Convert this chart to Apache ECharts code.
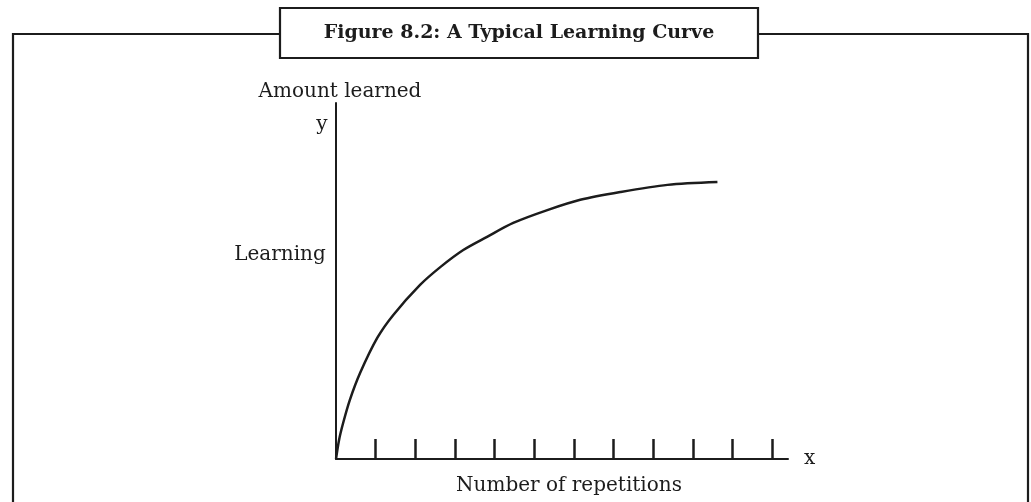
<!DOCTYPE html>
<html>
<head>
<meta charset="utf-8">
<script src="https://cdn.jsdelivr.net/npm/echarts@6/dist/echarts.min.js"></script>
<style>
html,body{margin:0;padding:0;background:#fff;}
#chart{width:1031px;height:502px;}
</style>
</head>
<body>
<div id="chart"></div>
<script>
// ---- data ----
var titleText = 'Figure 8.2: A Typical Learning Curve';
var repetitions = [0, 0.076, 0.18, 0.35, 0.61, 1.04, 1.44, 2.12, 2.63, 3.21, 3.81, 4.47, 5.33, 6.16, 7.17, 8.36, 9.62];
var amountLearned = [0, 5.3, 10.1, 16.6, 24.2, 34.0, 40.4, 48.9, 53.9, 58.7, 62.4, 66.3, 69.9, 72.8, 75.0, 77.0, 77.8];
var xTicks = [1, 2, 3, 4, 5, 6, 7, 8, 9, 10, 11];
var xAxisLabel = 'Number of repetitions';
var xAxisEnd = 'x';
var yAxisLabel = 'Amount learned';
var yAxisEnd = 'y';
var yMidLabel = 'Learning';

var serif = '"DejaVu Serif", serif';
var ink = '#1c1c1c';

var chart = echarts.init(document.getElementById('chart'), null, {renderer: 'canvas'});
var points = repetitions.map(function (x, i) { return [x, amountLearned[i]]; });

chart.setOption({
  backgroundColor: '#ffffff',
  animation: false,
  grid: {left: 336, right: 243, top: 103, bottom: 43, containLabel: false},
  xAxis: {
    type: 'value', min: 0, max: 11.4, interval: 1,
    axisLine: {show: true, lineStyle: {color: ink, width: 2}},
    axisTick: {show: true, inside: true, length: 20, customValues: xTicks, lineStyle: {color: ink, width: 2.5}},
    axisLabel: {show: false},
    splitLine: {show: false},
    name: xAxisEnd, nameLocation: 'end', nameGap: 16,
    nameTextStyle: {fontFamily: serif, fontSize: 20, color: ink, verticalAlign: 'middle', padding: [0,0,4,0]}
  },
  yAxis: {
    type: 'value', min: 0, max: 100,
    axisLine: {show: true, lineStyle: {color: ink, width: 2}},
    axisTick: {show: false},
    axisLabel: {show: false},
    splitLine: {show: false}
  },
  series: [{
    type: 'line',
    data: points,
    smooth: 0.3,
    showSymbol: false,
    lineStyle: {color: ink, width: 2.5}
  }],
  graphic: [
    {type: 'polyline', shape: {points: [[13, 502], [13, 34], [280, 34]]}, style: {stroke: ink, lineWidth: 2.2, fill: null}},
    {type: 'polyline', shape: {points: [[758, 34], [1028, 34], [1028, 502]]}, style: {stroke: ink, lineWidth: 2.2, fill: null}},
    {type: 'rect', shape: {x: 280, y: 8, width: 478, height: 50}, style: {stroke: ink, lineWidth: 2.2, fill: '#fff'}},
    {type: 'text', x: 519, y: 33, style: {text: titleText, fontFamily: serif, fontWeight: 'bold', fontSize: 19, fill: ink, align: 'center', verticalAlign: 'middle'}},
    {type: 'text', x: 340, y: 92, style: {text: yAxisLabel, fontFamily: serif, fontSize: 20, fill: ink, align: 'center', verticalAlign: 'middle'}},
    {type: 'text', x: 322, y: 125, style: {text: yAxisEnd, fontFamily: serif, fontSize: 20, fill: ink, align: 'center', verticalAlign: 'middle'}},
    {type: 'text', x: 280, y: 255, style: {text: yMidLabel, fontFamily: serif, fontSize: 20, fill: ink, align: 'center', verticalAlign: 'middle'}},
    {type: 'text', x: 569, y: 486, style: {text: xAxisLabel, fontFamily: serif, fontSize: 20, fill: ink, align: 'center', verticalAlign: 'middle'}}
  ]
});
</script>
</body>
</html>
